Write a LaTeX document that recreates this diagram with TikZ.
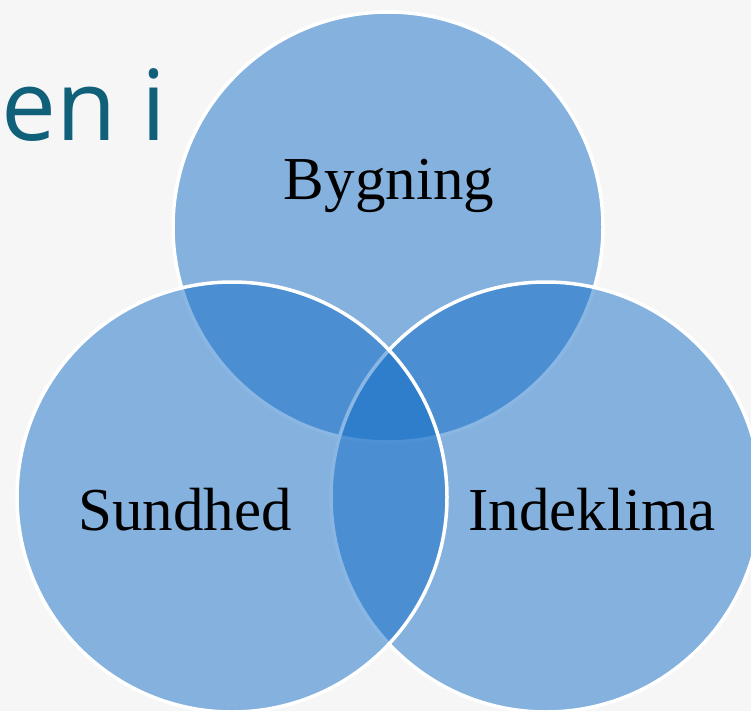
\documentclass[tikz,border=0pt]{standalone}
\usepackage{fontspec}
\newfontfamily\titlefont{Open Sans}
\newfontfamily\namefont{Liberation Serif}
\definecolor{vennblue}{RGB}{20,110,200}
\definecolor{titleteal}{RGB}{16,96,122}
\definecolor{slidebg}{RGB}{246,246,246}

\tikzset{
  venn/.style={circle, draw=white, line width=3.5pt, minimum size=430pt, inner sep=0pt,
    fill=vennblue, fill opacity=0.5, draw opacity=1},
  setname/.style={font=\namefont\fontsize{61}{72}\selectfont, inner sep=0pt, anchor=base}
}

\begin{document}
\begin{tikzpicture}[x=1pt, y=-1pt]%
      \useasboundingbox (0,0) rectangle (751,711);%
      \clip (0,0) rectangle (751,711);
      \fill[slidebg] (0,0) rectangle (751,711);
      % title of the slide, only its end shows
      \node[anchor=base west, inner sep=0pt, text=titleteal, font=\titlefont\fontsize{98}{116}\selectfont] (title) at (1,141) {en i};
      % circles, drawn top, right, left
      \foreach \name/\cx/\cy in {top/388/227, right/546/497, left/232/497}{%
        \node[venn] (C-\name) at (\cx,\cy) {};
      }
      \foreach \name/\tx/\ty/\txt in {top/389/200/Bygning, left/185/530/Sundhed, right/592/530/Indeklima}{%
        \node[setname] (L-\name) at (\tx,\ty) {\txt};
      }
    \end{tikzpicture}
\end{document}
